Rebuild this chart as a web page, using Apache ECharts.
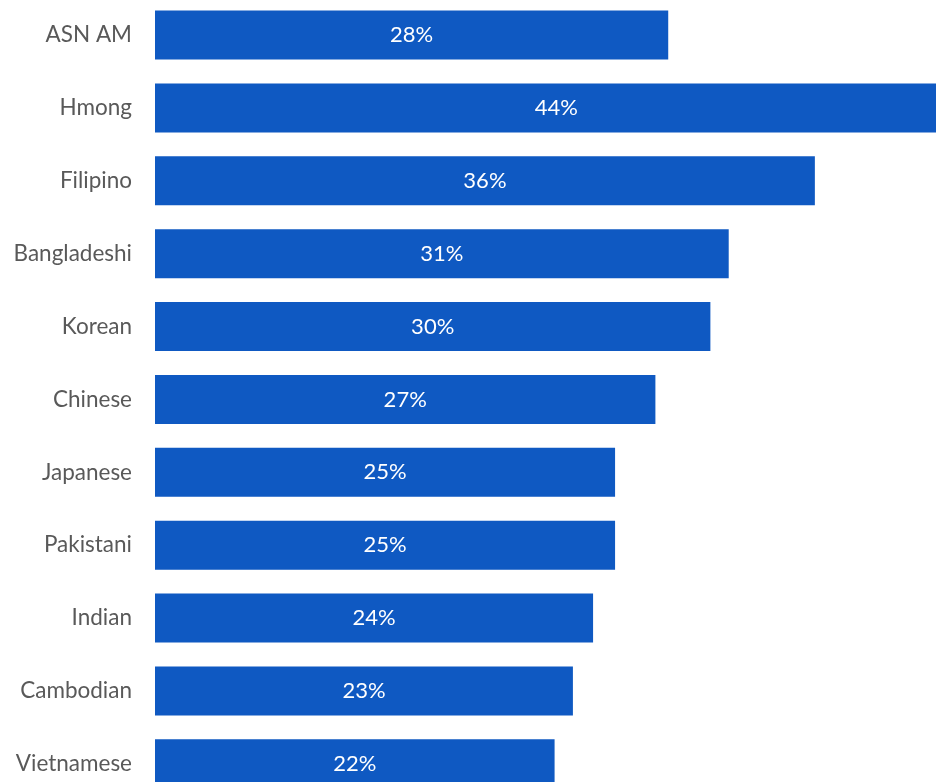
<!DOCTYPE html>
<html>
<head>
<meta charset="utf-8">
<script src="https://cdn.jsdelivr.net/npm/echarts@6/dist/echarts.min.js"></script>
<style>
html,body{margin:0;padding:0;background:#fff;}
#chart{width:936px;height:782px;}
</style>
</head>
<body>
<div id="chart"></div>
<script>
const categories = ["ASN AM","Hmong","Filipino","Bangladeshi","Korean","Chinese","Japanese","Pakistani","Indian","Cambodian","Vietnamese"];
const values = [28, 43.8, 36, 31.3, 30.3, 27.3, 25.1, 25.1, 23.9, 22.8, 21.8];

const chart = echarts.init(document.getElementById('chart'));
chart.setOption({
  animation: false,
  backgroundColor: '#ffffff',
  grid: { left: 155, top: -1.4, width: 806.5, height: 801.7, outerBoundsMode: 'none' },
  xAxis: {
    type: 'value', min: 0, max: 44,
    show: false
  },
  yAxis: {
    type: 'category',
    data: categories,
    inverse: true,
    axisLine: { show: false },
    axisTick: { show: false },
    axisLabel: {
      margin: 23,
      color: '#595959',
      fontFamily: 'Lato',
      fontSize: 22.5
    }
  },
  series: [{
    type: 'bar',
    data: values,
    barWidth: 49,
    itemStyle: { color: '#0F59C2' },
    label: {
      show: true,
      position: 'inside',
      color: '#ffffff',
      fontFamily: 'Lato',
      fontSize: 22,
      formatter: p => Math.round(p.value) + '%'
    }
  }]
});
</script>
</body>
</html>
